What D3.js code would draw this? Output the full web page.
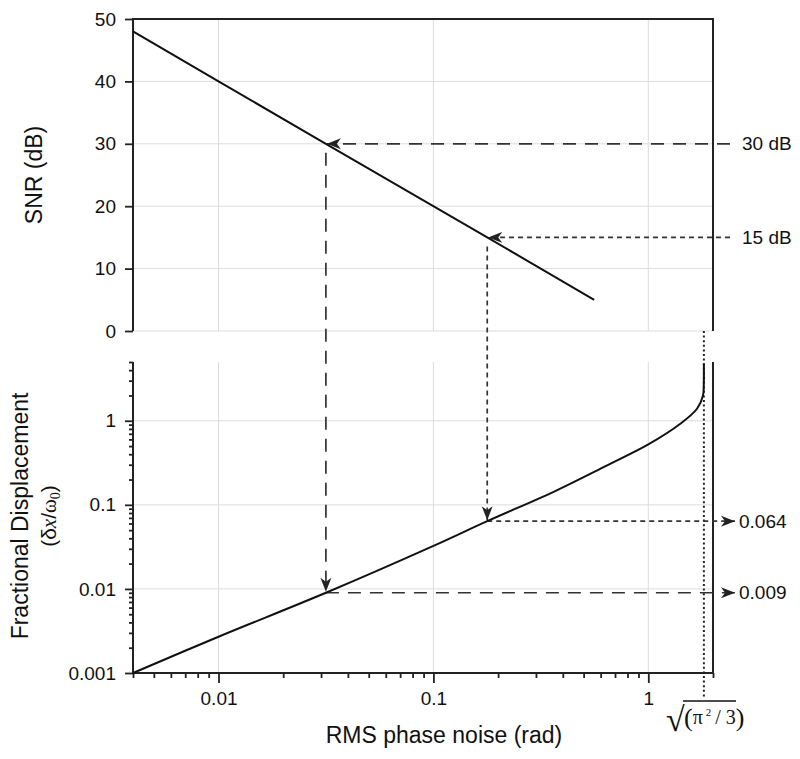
<!DOCTYPE html>
<html>
<head>
  <title>SNR and fractional displacement vs RMS phase noise</title>
  <style>
    body {
      margin: 0;
      padding: 0;
      background-color: #fff;
    }

    svg {
      display: block;
      font-family: "Liberation Sans", Arial, Helvetica, sans-serif;
    }

    .grid line {
      stroke: #dcdcdc;
      stroke-width: 1;
    }

    .frame {
      stroke: #222;
      stroke-width: 2;
      fill: none;
    }

    .tick-label {
      font-size: 19px;
      fill: #111;
    }

    .title {
      font-size: 23px;
      fill: #111;
    }
  </style>
</head>
<body>
  <svg id="chart" width="800" height="759"></svg>

  <script src="https://d3js.org/d3.v7.min.js"></script>
  <script>
    // values
    var xTicks = [0.01, 0.1, 1];
    var xTickLabels = ["0.01", "0.1", "1"];
    var snrTicks = [0, 10, 20, 30, 40, 50];
    var dispTicks = [0.001, 0.01, 0.1, 1];
    var dispTickLabels = ["0.001", "0.01", "0.1", "1"];

    // SNR line (top panel)
    var snrSigma = [0.004, 0.01, 0.0316, 0.178, 0.56];
    var snrDb = [48, 40, 30, 15, 5];

    // fractional displacement curve (bottom panel)
    var dispSigma = [0.004, 0.01, 0.0316, 0.1, 0.178, 0.3625, 0.619, 1.0, 1.409, 1.685, 1.797, 1.812, 1.8138];
    var dispValue = [0.001, 0.0027, 0.009, 0.0325, 0.064, 0.143, 0.281, 0.523, 0.921, 1.389, 2.0, 2.75, 4.8];

    // read-off examples
    var markSigma = [0.0316, 0.178];
    var markSnr = [30, 15];
    var markDisp = [0.009, 0.064];
    var markSnrLabel = ["30 dB", "15 dB"];
    var markDispLabel = ["0.009", "0.064"];

    var limitSigma = Math.sqrt(Math.PI * Math.PI / 3);

    var svg = d3.select("#chart");

    var left = 133, right = 713;
    var topY0 = 19, topY1 = 331;
    var botY0 = 362, botY1 = 673;

    var x = d3.scaleLog().domain([0.004, 2]).range([left, right]);
    var ySnr = d3.scaleLinear().domain([0, 50]).range([topY1, topY0]);
    var yDisp = d3.scaleLog().domain([0.001, 5]).range([botY1, botY0]);

    // arrow head
    svg.append("defs").append("marker")
      .attr("id", "arrow")
      .attr("markerUnits", "userSpaceOnUse")
      .attr("viewBox", "-14 -6 15 12")
      .attr("markerWidth", 15)
      .attr("markerHeight", 12)
      .attr("refX", 0)
      .attr("refY", 0)
      .attr("orient", "auto")
      .append("path")
      .attr("d", "M0,0 L-14,-5.5 L-10,0 L-14,5.5 Z")
      .attr("fill", "#222");

    // grids
    var gTop = svg.append("g").attr("class", "grid");
    gTop.selectAll("line.v").data(xTicks).enter().append("line")
      .attr("x1", function (d) { return x(d); })
      .attr("x2", function (d) { return x(d); })
      .attr("y1", topY0).attr("y2", topY1);
    gTop.selectAll("line.h").data(snrTicks.slice(0, -1)).enter().append("line")
      .attr("x1", left).attr("x2", right)
      .attr("y1", function (d) { return ySnr(d); })
      .attr("y2", function (d) { return ySnr(d); });

    var gBot = svg.append("g").attr("class", "grid");
    gBot.selectAll("line.v").data(xTicks).enter().append("line")
      .attr("x1", function (d) { return x(d); })
      .attr("x2", function (d) { return x(d); })
      .attr("y1", botY0).attr("y2", botY1);
    gBot.selectAll("line.h").data(dispTicks.slice(1)).enter().append("line")
      .attr("x1", left).attr("x2", right)
      .attr("y1", function (d) { return yDisp(d); })
      .attr("y2", function (d) { return yDisp(d); });

    // frames
    svg.append("path").attr("class", "frame")
      .attr("d", "M" + left + "," + topY1 + "V" + topY0 + "H" + right + "V" + topY1);
    svg.append("path").attr("class", "frame")
      .attr("d", "M" + left + "," + botY0 + "V" + botY1 + "H" + right + "V" + botY0);

    // top left axis
    var snrAxis = d3.axisLeft(ySnr).tickValues(snrTicks).tickSize(8).tickPadding(9);
    var gSnr = svg.append("g").attr("transform", "translate(" + left + ",0)").call(snrAxis);
    gSnr.select(".domain").remove();

    // bottom left log axis: minor then major
    var dispMinor = [];
    [0.001, 0.01, 0.1, 1].forEach(function (dec) {
      for (var k = 2; k <= 9; k++) {
        if (dec * k <= 5.0001) dispMinor.push(dec * k);
      }
    });
    var gDispMinor = svg.append("g").attr("transform", "translate(" + left + ",0)")
      .call(d3.axisLeft(yDisp).tickValues(dispMinor).tickSize(4).tickFormat(""));
    gDispMinor.select(".domain").remove();
    var gDisp = svg.append("g").attr("transform", "translate(" + left + ",0)")
      .call(d3.axisLeft(yDisp).tickValues(dispTicks).tickSize(8).tickPadding(9)
        .tickFormat(function (d, i) { return dispTickLabels[i]; }));
    gDisp.select(".domain").remove();

    // bottom x log axis
    var xMinor = [];
    [0.001, 0.01, 0.1, 1].forEach(function (dec) {
      for (var k = 2; k <= 9; k++) {
        var v = dec * k;
        if (v >= 0.004 - 1e-9 && v <= 2.0001) xMinor.push(v);
      }
    });
    var gXMinor = svg.append("g").attr("transform", "translate(0," + botY1 + ")")
      .call(d3.axisBottom(x).tickValues(xMinor).tickSize(5).tickFormat(""));
    gXMinor.select(".domain").remove();
    var gX = svg.append("g").attr("transform", "translate(0," + botY1 + ")")
      .call(d3.axisBottom(x).tickValues(xTicks).tickSize(10).tickPadding(9)
        .tickFormat(function (d, i) { return xTickLabels[i]; }));
    gX.select(".domain").remove();

    svg.selectAll(".tick line").attr("stroke", "#222").attr("stroke-width", 1.8);
    svg.selectAll(".tick text").attr("class", "tick-label")
      .attr("fill", "#111")
      .attr("font-size", null)
      .attr("font-family", null);
    svg.selectAll("g").filter(function () { return this.getAttribute("font-size") === "10"; })
      .attr("font-size", null).attr("font-family", null);

    // limit sqrt(pi^2/3)
    svg.append("line")
      .attr("x1", x(limitSigma)).attr("x2", x(limitSigma))
      .attr("y1", topY1).attr("y2", 698)
      .attr("stroke", "#222").attr("stroke-width", 2)
      .attr("stroke-dasharray", "2,2.6");

    // read-off arrows
    var dashes = ["13,9", "5,4"];
    markSigma.forEach(function (s, i) {
      var px = x(s);
      var g = svg.append("g")
        .attr("fill", "none")
        .attr("stroke", "#333")
        .attr("stroke-width", 1.7)
        .attr("stroke-dasharray", dashes[i]);
      g.append("line")
        .attr("x1", 730).attr("y1", ySnr(markSnr[i]))
        .attr("x2", px + 1).attr("y2", ySnr(markSnr[i]))
        .attr("marker-end", "url(#arrow)");
      g.append("line")
        .attr("x1", px).attr("y1", ySnr(markSnr[i]) + 9)
        .attr("x2", px).attr("y2", yDisp(markDisp[i]) - 1)
        .attr("marker-end", "url(#arrow)");
      g.append("line")
        .attr("x1", px).attr("y1", yDisp(markDisp[i]))
        .attr("x2", 735).attr("y2", yDisp(markDisp[i]))
        .attr("marker-end", "url(#arrow)");

      svg.append("text").attr("class", "tick-label")
        .attr("x", 742).attr("y", ySnr(markSnr[i]))
        .attr("dy", "0.35em")
        .text(markSnrLabel[i]);
      svg.append("text").attr("class", "tick-label")
        .attr("x", 739).attr("y", yDisp(markDisp[i]))
        .attr("dy", "0.35em")
        .text(markDispLabel[i]);
    });

    // curves
    var snrLine = d3.line()
      .x(function (d, i) { return x(snrSigma[i]); })
      .y(function (d) { return ySnr(d); });
    svg.append("path")
      .datum(snrDb)
      .attr("d", snrLine)
      .attr("fill", "none")
      .attr("stroke", "#111")
      .attr("stroke-width", 2);

    var dispLine = d3.line()
      .curve(d3.curveCatmullRom.alpha(0.5))
      .x(function (d, i) { return x(dispSigma[i]); })
      .y(function (d) { return yDisp(d); });
    svg.append("path")
      .datum(dispValue)
      .attr("d", dispLine)
      .attr("fill", "none")
      .attr("stroke", "#111")
      .attr("stroke-width", 2);

    // axis titles
    svg.append("text").attr("class", "title")
      .attr("transform", "translate(34,175) rotate(-90)")
      .attr("text-anchor", "middle")
      .attr("dy", "0.35em")
      .text("SNR (dB)");

    svg.append("text").attr("class", "title")
      .attr("transform", "translate(20,516) rotate(-90)")
      .attr("text-anchor", "middle")
      .attr("dy", "0.35em")
      .text("Fractional Displacement");

    var sub = svg.append("text").attr("class", "title")
      .attr("transform", "translate(49,516) rotate(-90)")
      .attr("text-anchor", "middle")
      .attr("dy", "0.35em")
      .style("font-size", "21px");
    sub.append("tspan").text("(δ");
    sub.append("tspan").attr("font-family", "Liberation Serif, serif").attr("font-style", "italic").text("x");
    sub.append("tspan").text("/");
    sub.append("tspan").attr("font-family", "Liberation Serif, serif").text("ω");
    sub.append("tspan").attr("font-family", "Liberation Serif, serif").style("font-size", "14px").attr("dy", "4").text("0");
    sub.append("tspan").attr("dy", "-4").text(")");

    svg.append("text").attr("class", "title")
      .attr("x", 444).attr("y", 743)
      .attr("text-anchor", "middle")
      .text("RMS phase noise (rad)");

    // sqrt(pi^2/3) label
    var root = svg.append("g").attr("font-family", "Liberation Serif, 'DejaVu Serif', serif").attr("fill", "#111");
    root.append("text")
      .attr("x", 666).attr("y", 731)
      .style("font-size", "34px")
      .text("√");
    root.append("line")
      .attr("x1", 683).attr("x2", 736)
      .attr("y1", 701).attr("y2", 701)
      .attr("stroke", "#111").attr("stroke-width", 1.3);
    var rad = root.append("text")
      .attr("x", 684).attr("y", 724)
      .style("font-size", "20px");
    rad.append("tspan").style("font-size", "26px").attr("dy", 2).text("(");
    rad.append("tspan").attr("dy", -2).text("π");
    rad.append("tspan").style("font-size", "11px").attr("dx", 3).attr("dy", -8).text("2");
    rad.append("tspan").attr("dx", 4).attr("dy", 8).text("/ 3");
    rad.append("tspan").style("font-size", "26px").attr("dy", 2).text(")");
  </script>
</body>
</html>
